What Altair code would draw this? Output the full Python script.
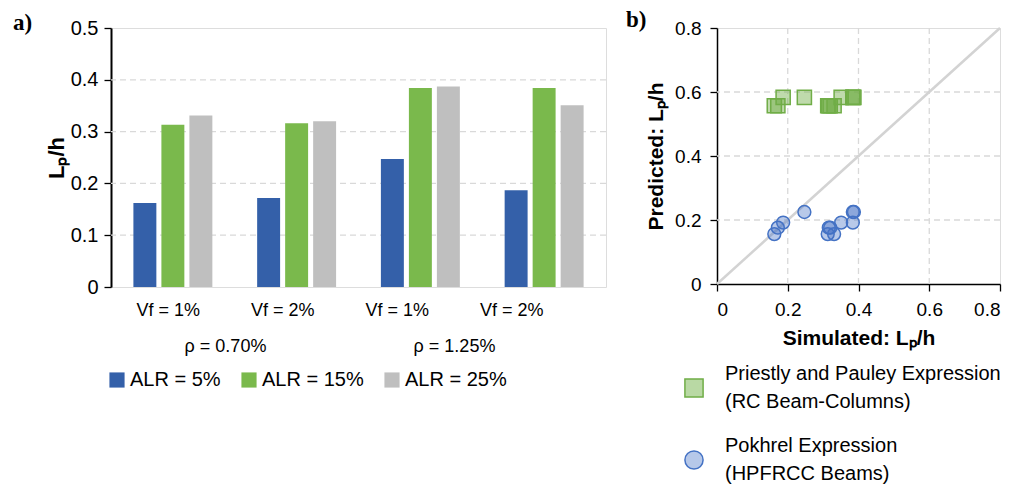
import altair as alt
import pandas as pd

# ---------------- (a) bar chart data ----------------
groups = ["g1", "g2", "g3", "g4"]
vf_labels = ["Vf = 1%", "Vf = 2%", "Vf = 1%", "Vf = 2%"]
rho_labels = ["ρ = 0.70%", "ρ = 1.25%"]
alr_labels = ["ALR = 5%", "ALR = 15%", "ALR = 25%"]
lp_alr5 = [0.162, 0.172, 0.247, 0.187]
lp_alr15 = [0.313, 0.316, 0.384, 0.384]
lp_alr25 = [0.331, 0.320, 0.387, 0.351]
bar_colors = ["#3460A9", "#7AB94C", "#BFBFBF"]
grid_a = [0.1, 0.2, 0.3, 0.4]
axis_ticks_a = [0, 0.1, 0.2, 0.3, 0.4, 0.5]

# ---------------- (b) scatter data ----------------
simulated = [0.162, 0.313, 0.331, 0.172, 0.316, 0.320,
             0.247, 0.384, 0.387, 0.187, 0.384, 0.351]
pred_priestley = [0.557, 0.557, 0.557, 0.557, 0.557, 0.557,
                  0.583, 0.583, 0.583, 0.583, 0.583, 0.583]
pred_pokhrel = [0.156, 0.156, 0.156, 0.176, 0.176, 0.176,
                0.225, 0.225, 0.225, 0.192, 0.192, 0.192]
series_names = ["Priestly and Pauley Expression\n(RC Beam-Columns)",
                "Pokhrel Expression\n(HPFRCC Beams)"]
series_colors = ["#70AD47", "#4472C4"]
legend_fills = ["#B9D9A4", "#B6C8E9"]
series_shapes = ["square", "circle"]
diag_vals = [0, 0.8]
axis_ticks_b = [0, 0.2, 0.4, 0.6, 0.8]
grid_b = [0.2, 0.4, 0.6]
panel_labels = ["a)", "b)"]

FONT = "Liberation Sans"
SERIF = "Liberation Serif"
GRID = "#D9D9D9"

rows = []
for i, g in enumerate(groups):
    for lab, vals in zip(alr_labels, [lp_alr5, lp_alr15, lp_alr25]):
        rows.append({"group": g, "alr": lab, "value": vals[i]})
bars_df = pd.DataFrame(rows)
vf_df = pd.DataFrame({"group": groups, "vf": vf_labels})
rho_df = pd.DataFrame({"rho": rho_labels})

WA, HA = 495, 259

axis_a = alt.Axis(values=axis_ticks_a, format=".1~f", title="Lₚ/h",
                  titleFontSize=22, titleFont=FONT, titleFontWeight="bold",
                  titleColor="black", titlePadding=2,
                  labelFontSize=20, labelFont=FONT, labelColor="black",
                  labelPadding=6, tickSize=7, tickColor="black", tickWidth=1.3,
                  domainColor="black", domainWidth=2, grid=False)
scale_a = alt.Scale(domain=[0, 0.5])

grid_a_layer = alt.Chart(pd.DataFrame({"value": grid_a})).mark_rule(
    color=GRID, strokeWidth=1.3, strokeDash=[6, 4]).encode(
    y=alt.Y("value:Q", scale=scale_a, axis=axis_a))

bar_layer = alt.Chart(bars_df).mark_bar().encode(
    x=alt.X("group:N", axis=None, sort=groups,
            scale=alt.Scale(paddingInner=0, paddingOuter=0)),
    xOffset=alt.XOffset("alr:N", scale=alt.Scale(domain=alr_labels, paddingInner=0.18, paddingOuter=0.8)),
    y=alt.Y("value:Q", scale=scale_a, axis=axis_a),
    color=alt.Color("alr:N", scale=alt.Scale(domain=alr_labels, range=bar_colors),
                    legend=alt.Legend(title=None, orient="none", legendX=-4, legendY=342,
                                      direction="horizontal", columns=3, symbolType="square",
                                      symbolSize=230, symbolStrokeWidth=0, labelFontSize=20,
                                      labelFont=FONT, labelColor="black", columnPadding=18,
                                      labelOffset=3)),
)

vf_layer = alt.Chart(vf_df).mark_text(fontSize=18, font=FONT, color="black").encode(
    x=alt.X("group:N", axis=None, sort=groups,
            scale=alt.Scale(range=[0, 458], paddingInner=0, paddingOuter=0)),
    y=alt.value(HA + 24),
    text="vf:N",
)

rho_layer = alt.Chart(rho_df).mark_text(fontSize=18, font=FONT, color="black").encode(
    x=alt.X("rho:N", axis=None, sort=rho_labels,
            scale=alt.Scale(range=[0, 458], paddingInner=0, paddingOuter=0)),
    y=alt.value(HA + 60),
    text="rho:N",
)

label_a = alt.Chart(pd.DataFrame({"t": [panel_labels[0]]})).mark_text(
    font=SERIF, fontSize=23, fontWeight="bold", color="black", align="left", baseline="alphabetic").encode(
    text="t:N", x=alt.value(-98), y=alt.value(2))

left = alt.layer(grid_a_layer, bar_layer, vf_layer, rho_layer, label_a).resolve_scale(
    x="independent").properties(width=WA, height=HA)

# ---------------- (b) ----------------
sq_df = pd.DataFrame({"sim": simulated, "pred": pred_priestley})
ci_df = pd.DataFrame({"sim": simulated, "pred": pred_pokhrel})
diag_df = pd.DataFrame({"sim": diag_vals, "pred": diag_vals})
leg_df = pd.DataFrame({"series": series_names})

WB, HB = 283, 256
scale_b = alt.Scale(domain=[0, 0.8])

axis_bx = alt.Axis(values=axis_ticks_b, format=".1~f", title="Simulated: Lₚ/h",
                   titleFontSize=21, titleFont=FONT, titleFontWeight="bold", titleColor="black",
                   titlePadding=8, labelFontSize=19, labelFont=FONT, labelColor="black",
                   labelPadding=9, tickSize=7, tickColor="black", tickWidth=1.3,
                   domainColor="black", domainWidth=1.5, grid=False)
axis_by = alt.Axis(values=axis_ticks_b, format=".1~f", title="Predicted: Lₚ/h",
                   titleFontSize=21, titleFont=FONT, titleFontWeight="bold", titleColor="black",
                   titlePadding=8, labelFontSize=19, labelFont=FONT, labelColor="black",
                   labelPadding=9, tickSize=7, tickColor="black", tickWidth=1.3,
                   domainColor="black", domainWidth=1.5, grid=False)
xb = alt.X("sim:Q", scale=scale_b, axis=axis_bx)
yb = alt.Y("pred:Q", scale=scale_b, axis=axis_by)

grid_bx = alt.Chart(pd.DataFrame({"sim": grid_b})).mark_rule(
    color=GRID, strokeWidth=1.3, strokeDash=[6, 4]).encode(x=xb)
grid_by = alt.Chart(pd.DataFrame({"pred": grid_b})).mark_rule(
    color=GRID, strokeWidth=1.3, strokeDash=[6, 4]).encode(y=yb)

diag = alt.Chart(diag_df).mark_line(color="#D3D3D3", strokeWidth=2.5).encode(x=xb, y=yb)

squares = alt.Chart(sq_df).mark_point(
    filled=True, shape=series_shapes[0], color=series_colors[0], stroke=series_colors[0],
    strokeWidth=1.5, fillOpacity=0.45, opacity=1, size=200).encode(x=xb, y=yb)
circles = alt.Chart(ci_df).mark_point(
    filled=True, shape=series_shapes[1], color=series_colors[1], stroke=series_colors[1],
    strokeWidth=1.5, fillOpacity=0.38, opacity=1, size=165).encode(x=xb, y=yb)

label_b = alt.Chart(pd.DataFrame({"t": [panel_labels[1]]})).mark_text(
    font=SERIF, fontSize=23, fontWeight="bold", color="black", align="left", baseline="alphabetic").encode(
    text="t:N", x=alt.value(-91), y=alt.value(-1))

scatter = alt.layer(grid_bx, grid_by, diag, squares, circles, label_b)

# legend for panel b, drawn from the series names through a point scale
leg_y = alt.Y("series:N", axis=None, sort=series_names,
              scale=alt.Scale(type="point", domain=series_names, range=[360, 432], padding=0))
leg_pts = alt.Chart(leg_df).mark_point(filled=True, size=330, strokeWidth=1.5, opacity=1).encode(
    x=alt.value(-23), y=leg_y,
    shape=alt.Shape("series:N", scale=alt.Scale(domain=series_names, range=series_shapes), legend=None),
    fill=alt.Fill("series:N", scale=alt.Scale(domain=series_names, range=legend_fills), legend=None),
    stroke=alt.Stroke("series:N", scale=alt.Scale(domain=series_names, range=series_colors), legend=None),
)
leg_txt = alt.Chart(leg_df).mark_text(
    align="left", baseline="middle", lineBreak="\n", lineHeight=28, dy=-14,
    fontSize=20, font=FONT, color="black").encode(
    x=alt.value(8), y=leg_y, text="series:N")
legend_b = alt.layer(leg_pts, leg_txt)

right = alt.layer(scatter, legend_b).resolve_scale(y="independent").properties(width=WB, height=HB)

chart = alt.hconcat(left, right, spacing=111, bounds="flush").properties(
    padding={"left": 4, "top": 0, "right": 0, "bottom": 0}
).configure_view(stroke="black", strokeWidth=1.5).configure(background="white")

chart.save("out.html", embed_options={"renderer": "svg", "actions": False})
